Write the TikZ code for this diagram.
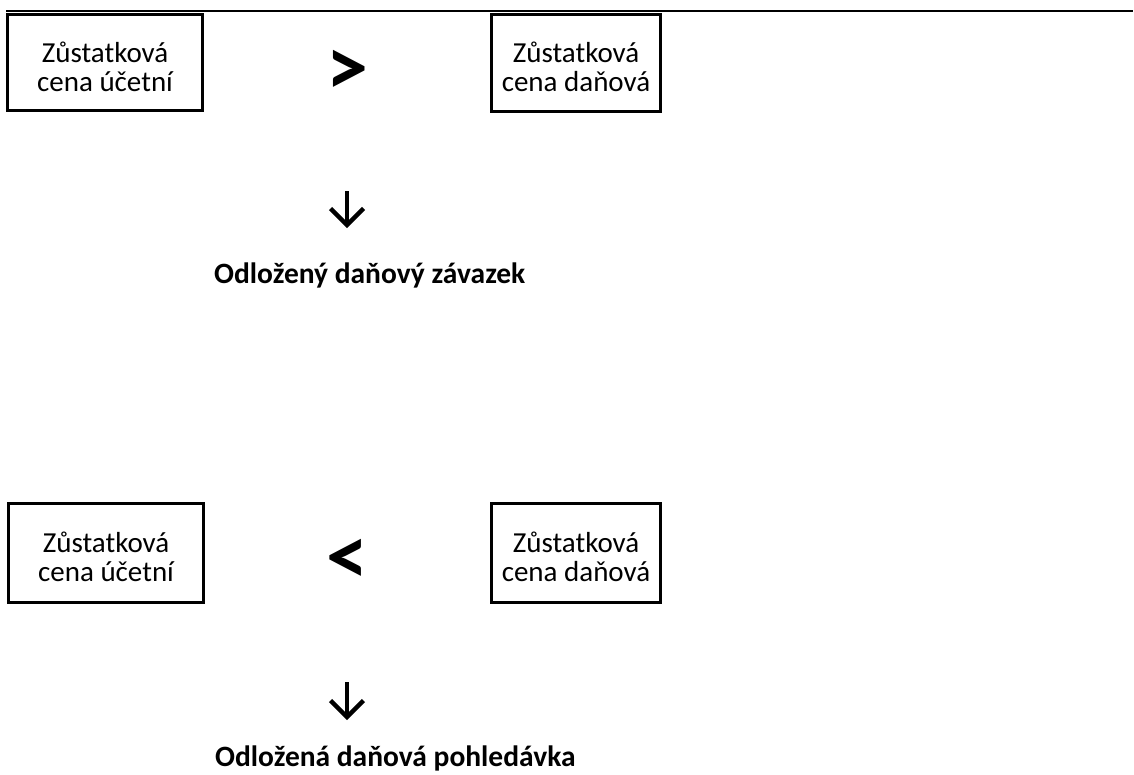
\documentclass[tikz,border=0pt]{standalone}
\usepackage{fontspec}
\setmainfont{Carlito}
\begin{document}
\begin{tikzpicture}[x=1pt,y=-1pt,
  box/.style={draw, line width=3pt, inner sep=0pt},
  boxtext/.style={inner sep=0pt, align=center, font=\fontsize{29}{28.7}\selectfont},
  result/.style={inner sep=0pt, anchor=base west, font=\bfseries\fontsize{29.5}{34}\selectfont},
  relsym/.style={inner sep=0pt, font=\bfseries\fontsize{84}{84}\selectfont},
  arr/.style={line width=4.5pt, line join=miter}
]
\useasboundingbox (0,0) rectangle (1134,774);
% top rule
\draw[line width=2.8pt] (6,11) -- (1133,11);

% upper comparison
\node[box, minimum width=195pt, minimum height=96pt] (b1) at (105,62.5) {};
\node[boxtext] (t1) at ([yshift=-4pt]b1.center) {Zůstatková\\cena účetní};
\node[box, minimum width=169pt, minimum height=97pt] (b2) at (576,63) {};
\node[boxtext] (t2) at ([yshift=-4pt]b2.center) {Zůstatková\\cena daňová};
\node[relsym] (gt) at (347.5,73) {>};
\coordinate (a1s) at (347,191);
\coordinate (a1e) at (347,225);
\draw[arr] (a1s) -- (a1e);
\draw[arr] (a1e) ++(-16.5,-16.5) -- (a1e) -- ++(16.5,-16.5);
\node[result] (r1) at (214,283) {Odložený daňový závazek};

% lower comparison
\node[box, minimum width=195pt, minimum height=99pt] (b3) at (106,553) {};
\node[boxtext] (t3) at ([yshift=-4pt]b3.center) {Zůstatková\\cena účetní};
\node[box, minimum width=169pt, minimum height=99pt] (b4) at (576,553) {};
\node[boxtext] (t4) at ([yshift=-4pt]b4.center) {Zůstatková\\cena daňová};
\node[relsym] (lt) at (347.5,561.5) {<};
\coordinate (a2s) at (347,682);
\coordinate (a2e) at (347,717);
\draw[arr] (a2s) -- (a2e);
\draw[arr] (a2e) ++(-16.5,-16.5) -- (a2e) -- ++(16.5,-16.5);
\node[result] (r2) at (215,766) {Odložená daňová pohledávka};
\end{tikzpicture}
\end{document}
